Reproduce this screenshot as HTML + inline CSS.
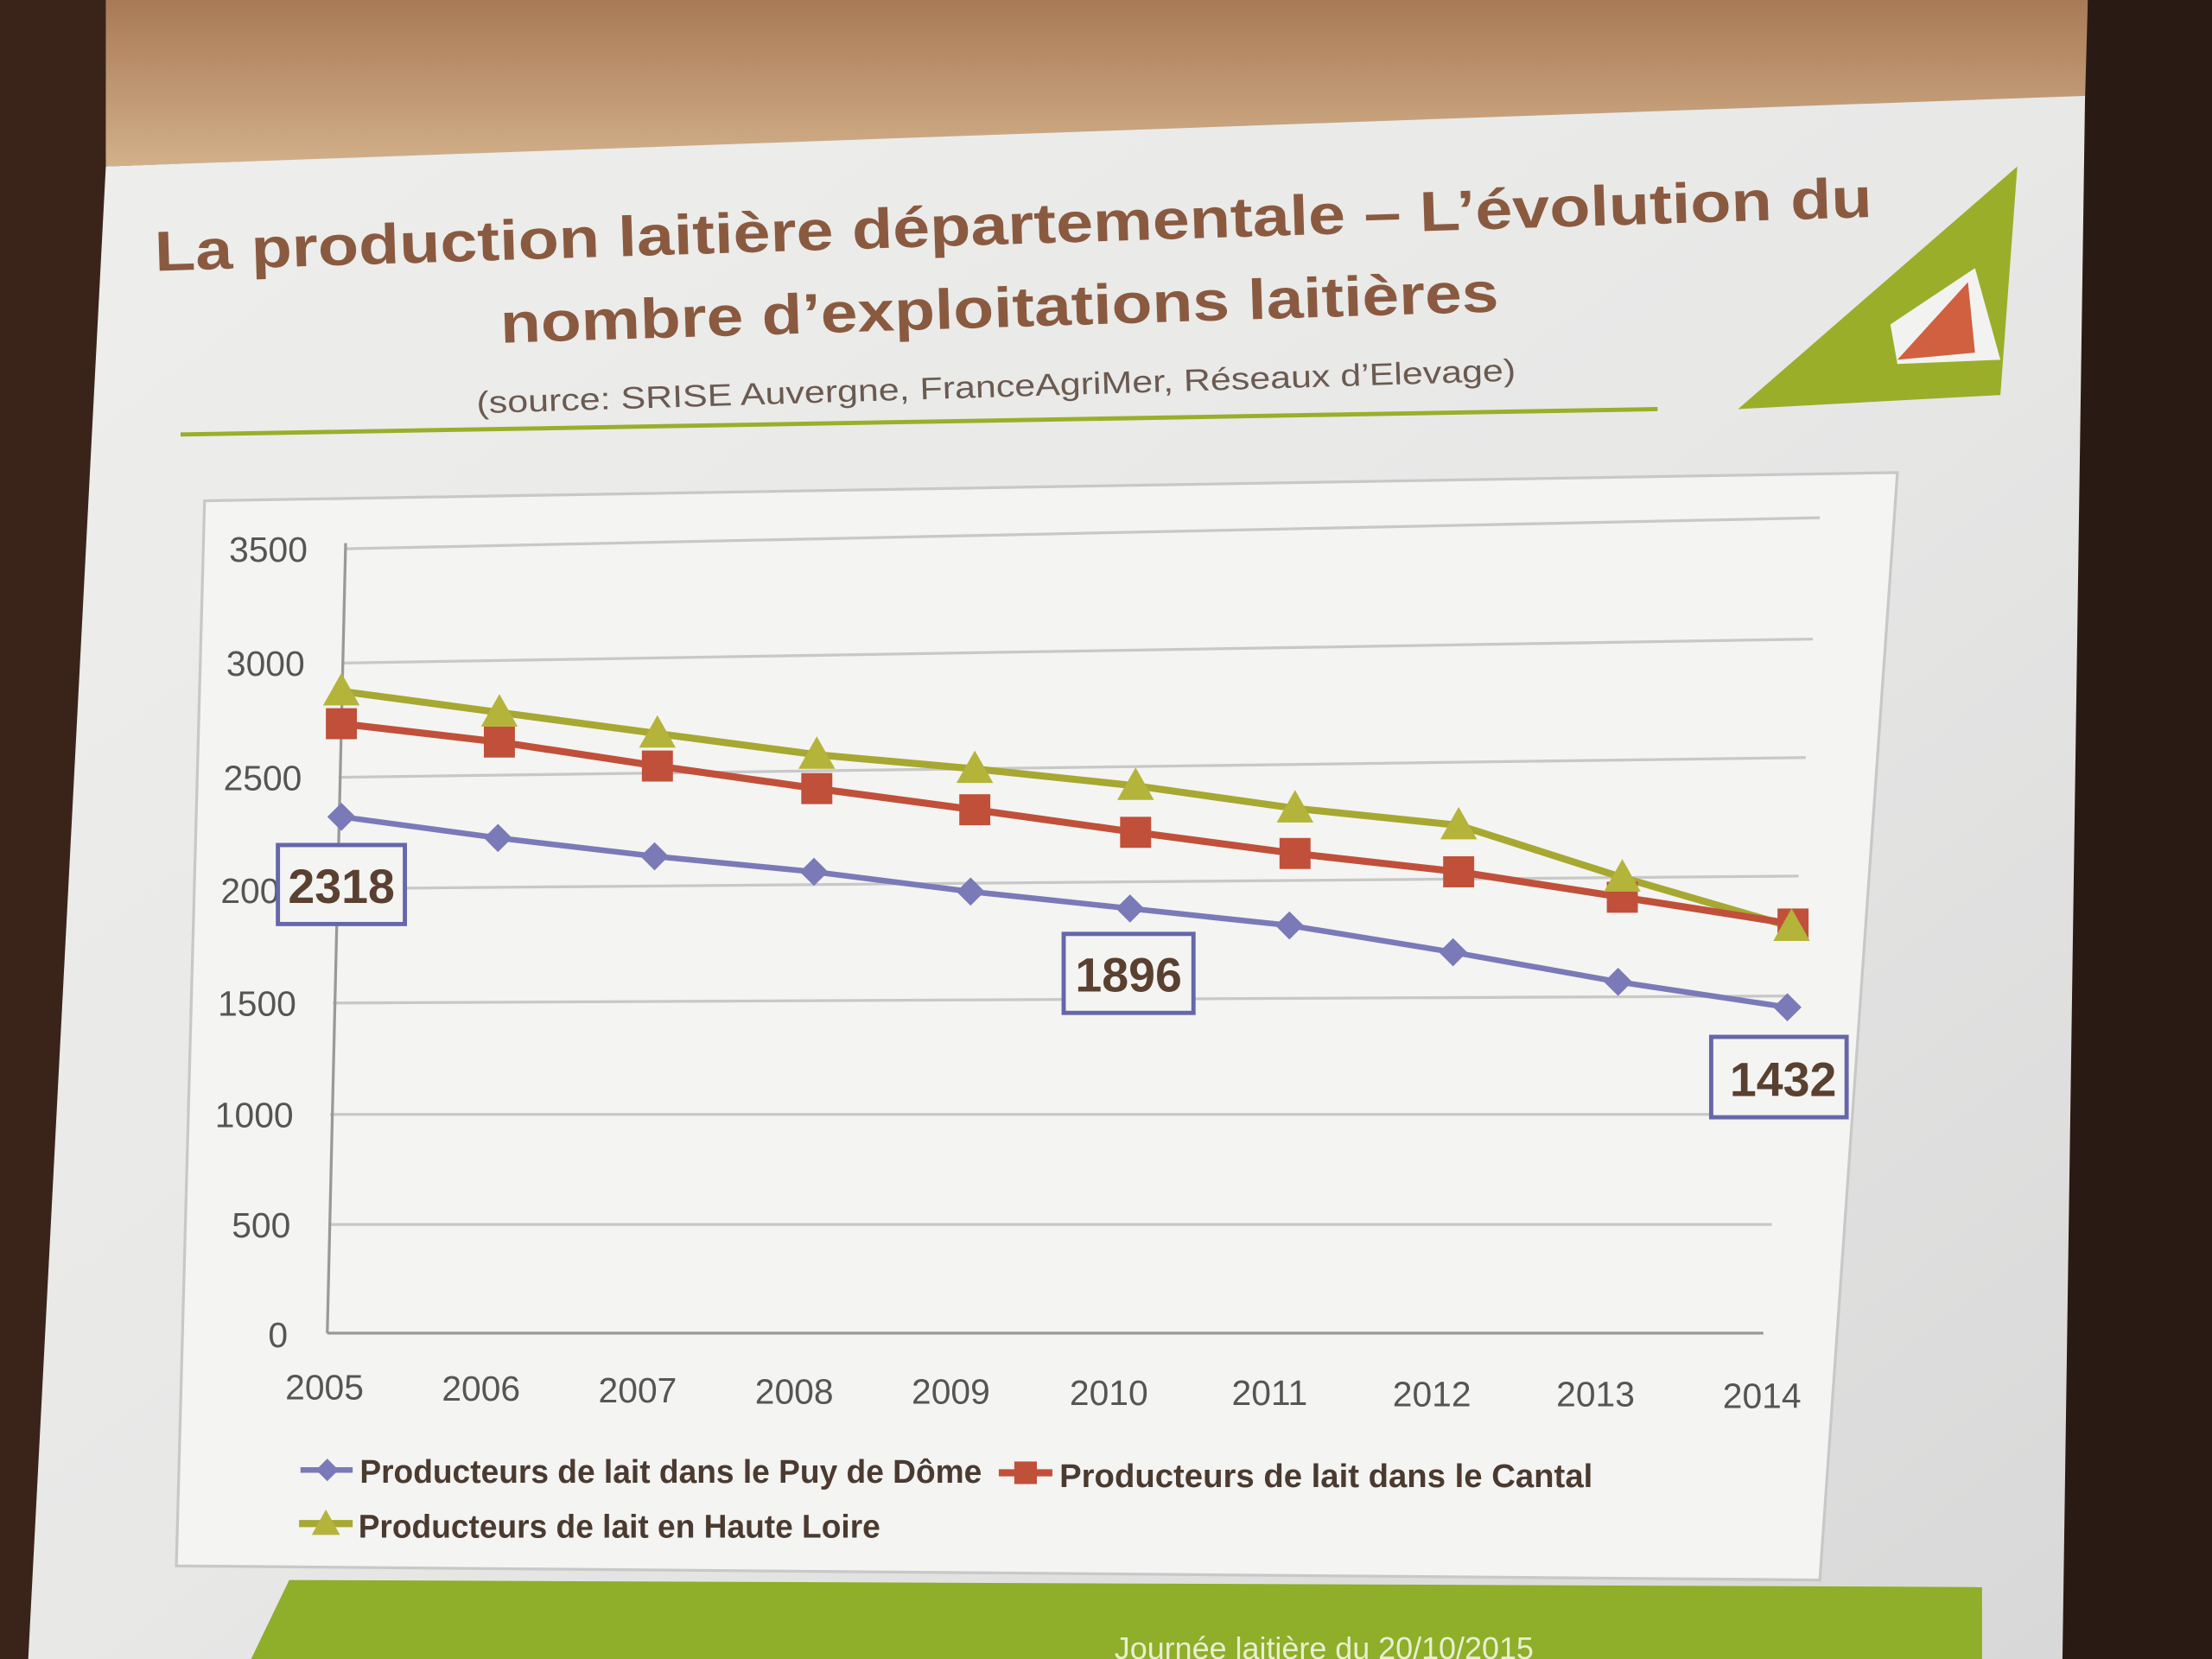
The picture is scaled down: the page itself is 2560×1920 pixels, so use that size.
<!DOCTYPE html>
<html><head><meta charset="utf-8"><style>html,body{margin:0;padding:0;background:#2a1a12;}svg{display:block}</style></head><body>
<svg width="2560" height="1920" viewBox="0 0 1568 1176" preserveAspectRatio="none" xmlns="http://www.w3.org/2000/svg">
<defs>
<linearGradient id="top" x1="0" y1="0" x2="0" y2="1"><stop offset="0" stop-color="#a87a55"/><stop offset="1" stop-color="#d2b08a"/></linearGradient>
<linearGradient id="scr" x1="0" y1="0" x2="1" y2="1"><stop offset="0" stop-color="#eeeeec"/><stop offset="0.5" stop-color="#e8e8e7"/><stop offset="1" stop-color="#d8d8d8"/></linearGradient>
</defs>
<rect width="1568" height="1176" fill="#2e1c14"/>
<polygon points="70,0 1480,0 1478,70 75,118" fill="url(#top)"/>
<polygon points="0,0 75,0 75,118 20,1176 0,1176" fill="#3a241a"/>
<polygon points="1480,0 1568,0 1568,1176 1462,1176" fill="#2a1a14"/>
<polygon points="75,118 1478,68 1462,1176 20,1176" fill="url(#scr)"/>
<polygon points="205,1120 1405,1125 1405,1176 178,1176" fill="#8fae2a"/>
<text x="790" y="1176" font-family="Liberation Sans,sans-serif" font-size="22" fill="#e8f0d0">Journée laitière du 20/10/2015</text>
<polygon points="1232,290 1430,118 1418,280" fill="#9aae2a"/>
<polygon points="1340,230 1400,190 1418,255 1345,258" fill="#f2f2f0"/>
<polygon points="1345,255 1395,200 1400,250" fill="#d06040"/>
<g font-family="Liberation Sans,sans-serif" font-weight="bold" fill="#8a5a40" font-size="40">
<text x="110" y="192" textLength="1218" lengthAdjust="spacingAndGlyphs" transform="rotate(-1.8 110 192)">La production laitière départementale – L’évolution du</text>
<text x="355" y="243" textLength="708" lengthAdjust="spacingAndGlyphs" transform="rotate(-1.8 355 243)">nombre d’exploitations laitières</text>
</g>
<text x="338" y="293" textLength="737" lengthAdjust="spacingAndGlyphs" transform="rotate(-1.8 338 293)" font-family="Liberation Sans,sans-serif" font-size="22" fill="#6a5a50">(source: SRISE Auvergne, FranceAgriMer, Réseaux d’Elevage)</text>
<line x1="128" y1="308" x2="1175" y2="290" stroke="#9aae2a" stroke-width="3"/>
<polygon points="145,355 1345,335 1290,1120 125,1110" fill="#f4f4f2" stroke="#c8c8c8" stroke-width="2"/>
<g stroke="#c8c8c8" stroke-width="2">
<line x1="245" y1="389" x2="1290" y2="367"/>
<line x1="243" y1="470" x2="1285" y2="453"/>
<line x1="240" y1="551" x2="1280" y2="537"/>
<line x1="238" y1="630" x2="1275" y2="621"/>
<line x1="236" y1="711" x2="1268" y2="706"/>
<line x1="234" y1="790" x2="1262" y2="790"/>
<line x1="233" y1="868" x2="1256" y2="868"/>
</g>
<line x1="245" y1="385" x2="232" y2="945" stroke="#999" stroke-width="2"/>
<line x1="232" y1="945" x2="1250" y2="945" stroke="#999" stroke-width="2"/>
<g font-family="Liberation Sans,sans-serif" font-size="25" fill="#555" text-anchor="end">
<text x="218" y="398">3500</text><text x="216" y="479">3000</text><text x="214" y="560">2500</text><text x="212" y="640">2000</text><text x="210" y="720">1500</text><text x="208" y="799">1000</text><text x="206" y="877">500</text><text x="204" y="955">0</text>
</g>
<g font-family="Liberation Sans,sans-serif" font-size="25" fill="#555" text-anchor="middle">
<text x="230" y="992">2005</text><text x="341" y="993">2006</text><text x="452" y="994">2007</text><text x="563" y="995">2008</text><text x="674" y="995">2009</text><text x="786" y="996">2010</text><text x="900" y="996">2011</text><text x="1015" y="997">2012</text><text x="1131" y="997">2013</text><text x="1249" y="998">2014</text>
</g>
<polyline fill="none" stroke="#a6a832" stroke-width="5" points="242,490 354,505 466,520 579,535 691,545 805,557 918,573 1034,585 1150,622 1270,657"/>
<polyline fill="none" stroke="#c0503a" stroke-width="5" points="242,513 354,526 466,543 579,559 691,574 805,590 918,605 1034,618 1150,636 1271,655"/>
<polyline fill="none" stroke="#7a7ab8" stroke-width="4" points="242,579 353,594 464,607 577,618 688,632 801,644 914,656 1030,675 1147,696 1267,714"/>
<g fill="#c0503a">
<rect x="231" y="502" width="22" height="22"/><rect x="343" y="515" width="22" height="22"/><rect x="455" y="532" width="22" height="22"/><rect x="568" y="548" width="22" height="22"/><rect x="680" y="563" width="22" height="22"/><rect x="794" y="579" width="22" height="22"/><rect x="907" y="594" width="22" height="22"/><rect x="1023" y="607" width="22" height="22"/><rect x="1139" y="625" width="22" height="22"/><rect x="1260" y="644" width="22" height="22"/>
</g>
<g fill="#b4b43a">
<polygon points="242,477 255,500 229,500"/><polygon points="354,492 367,515 341,515"/><polygon points="466,507 479,530 453,530"/><polygon points="579,522 592,545 566,545"/><polygon points="691,532 704,555 678,555"/><polygon points="805,544 818,567 792,567"/><polygon points="918,560 931,583 905,583"/><polygon points="1034,572 1047,595 1021,595"/><polygon points="1150,609 1163,632 1137,632"/><polygon points="1270,644 1283,667 1257,667"/>
</g>
<g fill="#7a7ab8">
<polygon points="242,569 252,579 242,589 232,579"/><polygon points="353,584 363,594 353,604 343,594"/><polygon points="464,597 474,607 464,617 454,607"/><polygon points="577,608 587,618 577,628 567,618"/><polygon points="688,622 698,632 688,642 678,632"/><polygon points="801,634 811,644 801,654 791,644"/><polygon points="914,646 924,656 914,666 904,656"/><polygon points="1030,665 1040,675 1030,685 1020,675"/><polygon points="1147,686 1157,696 1147,706 1137,696"/><polygon points="1267,704 1277,714 1267,724 1257,714"/>
</g>
<g font-family="Liberation Sans,sans-serif" font-weight="bold" font-size="34" fill="#5a4030">
<rect x="197" y="599" width="90" height="56" fill="#f4f4f2" stroke="#6666aa" stroke-width="3"/><text x="242" y="640" text-anchor="middle">2318</text>
<rect x="754" y="662" width="92" height="56" fill="#f4f4f2" stroke="#6666aa" stroke-width="3"/><text x="800" y="703" text-anchor="middle">1896</text>
<rect x="1213" y="735" width="96" height="57" fill="#f4f4f2" stroke="#6666aa" stroke-width="3"/><text x="1264" y="777" text-anchor="middle">1432</text>
</g>
<line x1="213" y1="1042" x2="250" y2="1042" stroke="#7a7ab8" stroke-width="4"/><polygon points="232,1034 240,1042 232,1050 224,1042" fill="#7a7ab8"/>
<line x1="708" y1="1044" x2="746" y2="1044" stroke="#c0503a" stroke-width="5"/><rect x="719" y="1036" width="16" height="16" fill="#c0503a"/>
<line x1="212" y1="1080" x2="250" y2="1080" stroke="#a6a832" stroke-width="5"/><polygon points="231,1070 241,1088 221,1088" fill="#b4b43a"/>
<g font-family="Liberation Sans,sans-serif" font-weight="bold" font-size="23" fill="#4a3a30">
<text x="255" y="1051" textLength="441" lengthAdjust="spacingAndGlyphs">Producteurs de lait dans le Puy de Dôme</text>
<text x="751" y="1054" textLength="378" lengthAdjust="spacingAndGlyphs">Producteurs de lait dans le Cantal</text>
<text x="254" y="1090" textLength="370" lengthAdjust="spacingAndGlyphs">Producteurs de lait en Haute Loire</text>
</g>
</svg>
</body></html>
